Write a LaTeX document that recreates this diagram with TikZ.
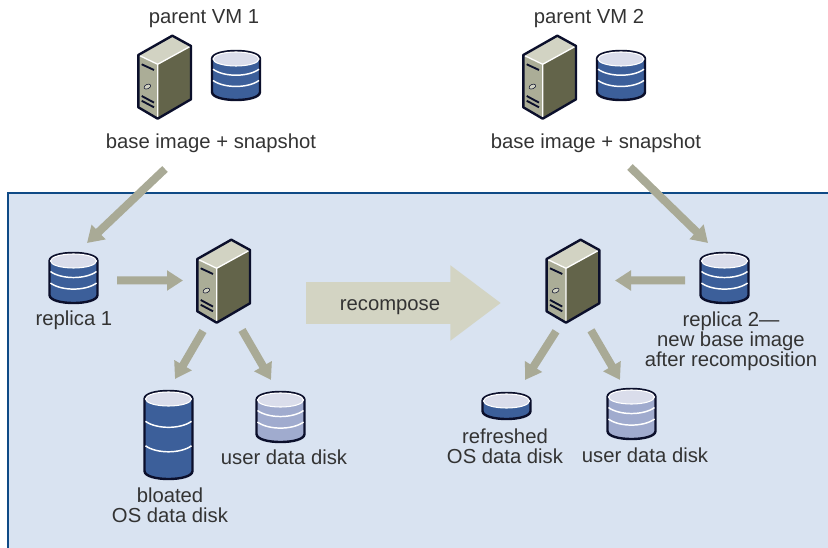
\documentclass[tikz,border=0pt]{standalone}
\usepackage{fontspec}
\setmainfont{Liberation Sans}
\usetikzlibrary{arrows.meta}
\definecolor{panelfill}{HTML}{D9E3F1}
\definecolor{panelline}{HTML}{0F4A86}
\definecolor{iconline}{HTML}{0B0F2B}
\definecolor{diskblue}{HTML}{3C5F9A}
\definecolor{disklight}{HTML}{A0ABCE}
\definecolor{disktop}{HTML}{DADDEB}
\definecolor{srvtop}{HTML}{D2D3C3}
\definecolor{srvfront}{HTML}{ABAD97}
\definecolor{srvside}{HTML}{63644A}
\definecolor{flowgray}{HTML}{A9AA96}
\definecolor{bigflow}{HTML}{D3D4C3}
\definecolor{labeltext}{HTML}{333333}
\tikzset{
    lbl/.style={text=labeltext,font=\fontsize{15.2}{15}\selectfont,align=center,inner sep=0pt},
    iconspot/.style={inner sep=0pt,minimum size=0pt,outer sep=0pt},
    flowarrow/.style={draw=flowgray,line width=6pt,-{Triangle[width=14.5pt,length=12pt,fill=flowgray]}},
    bigarrow/.style={draw=bigflow,line width=31.5pt,-{Triangle[width=54pt,length=38pt,fill=bigflow]}},
    iconedge/.style={draw=iconline,line width=1.8pt,line join=round}
}
\newcommand{\serverbox}[3]{
    \begin{scope}[shift={(#2,#3)}]
        \node[iconspot] (#1) at (0,0) {};
        \fill[srvtop] (-19.4,-9.3) -- (14.6,-28.6) -- (33.3,-18.3) -- (0,0) -- cycle;
        \fill[srvfront] (-19.4,-9.3) -- (0,0) -- (0,54.4) -- (-19.4,43) -- cycle;
        \fill[srvside] (0,0) -- (33.3,-18.3) -- (33.3,35) -- (0,54.4) -- cycle;
        \draw[white,line width=1pt] (-19.4,-9.3) -- (0,0) -- (33.3,-18.3) (0,0) -- (0,54.4);
        \draw[iconedge] (-19.4,-9.3) -- (14.6,-28.6) -- (33.3,-18.3) -- (33.3,35) -- (0,54.4) -- (-19.4,43) -- cycle;
        \draw[iconline,line width=1.4pt] (-16,0) -- (-3.7,5.7) (-16,31.7) -- (-3.7,38.3) (-16,36.5) -- (-3.7,43);
        \draw[iconline,fill=srvtop,line width=.4pt,rotate around={25:(-10.3,22.3)}] (-10.3,22.3) ellipse [x radius=3.6,y radius=2.2];
    \end{scope}
}
\newcommand{\diskbox}[5]{
    \begin{scope}[shift={(#2,#3)}]
        \node[iconspot] (#1) at (0,0) {};
        \pgfmathsetmacro{\ytop}{-#4/2+8}
        \pgfmathsetmacro{\ybot}{#4/2-8}
        \draw[iconedge,fill=#5] (-24,\ytop) -- (-24,\ybot) .. controls (-24,\ybot+10.7) and (24,\ybot+10.7) .. (24,\ybot) -- (24,\ytop) .. controls (24,\ytop-10.7) and (-24,\ytop-10.7) .. cycle;
        \draw[white,fill=disktop,line width=.8pt] (0,\ytop) ellipse [x radius=23,y radius=7];
    \end{scope}
}
\newcommand{\diskbands}[3]{
    \begin{scope}[shift={(#1,#2)}]
        \foreach \frac in {.31,.65}{
            \pgfmathsetmacro{\yband}{-#3/2+8+\frac*(#3-16)}
            \draw[white,line width=1.1pt] (-23,\yband) .. controls (-12,\yband+8) and (12,\yband+8) .. (23,\yband);
        }
    \end{scope}
}
\begin{document}
\begin{tikzpicture}[x=0.75pt,y=-0.75pt]
    \useasboundingbox (0,0) rectangle (828,548);
    \fill[panelfill] (8,193) rectangle (828,548);
    \draw[panelline,line width=1.8pt] (8,548) -- (8,193) -- (828,193);

    \node[lbl] (parentA) at (204,19) {parent VM 1};
    \node[lbl] (parentB) at (589,19) {parent VM 2};
    \node[lbl] (baseA) at (211,143) {base image + snapshot};
    \node[lbl] (baseB) at (596,143) {base image + snapshot};

    \serverbox{vmA}{157.7}{64.3}
    \serverbox{vmB}{542.7}{64.3}
    \serverbox{serverA}{216.7}{268.3}
    \serverbox{serverB}{566}{268.3}

    \diskbox{diskA}{236}{75.5}{49}{diskblue}
    \diskbands{236}{75.5}{49}
    \diskbox{diskB}{621}{75.5}{49}{diskblue}
    \diskbands{621}{75.5}{49}
    \diskbox{replicaA}{73.5}{278}{50}{diskblue}
    \diskbands{73.5}{278}{50}
    \diskbox{replicaB}{724.5}{278}{50}{diskblue}
    \diskbands{724.5}{278}{50}
    \diskbox{bloated}{168.5}{435}{88}{diskblue}
    \diskbands{168.5}{435}{88}
    \diskbox{userA}{280.5}{417}{50}{disklight}
    \diskbands{280.5}{417}{50}
    \diskbox{refreshed}{506.5}{406}{26}{diskblue}
    \diskbox{userB}{631.5}{414}{50}{disklight}
    \diskbands{631.5}{414}{50}

    \node[lbl] (replicaAlbl) at (74,320) {replica 1};
    \node[lbl] (bloatedlbl) at (170,505.5) {bloated\\OS data disk};
    \node[lbl] (userAlbl) at (284,457) {user data disk};
    \node[lbl] (refreshedlbl) at (505,446.5) {refreshed\\OS data disk};
    \node[lbl] (userBlbl) at (645,455.5) {user data disk};
    \node[lbl] (replicaBlbl) at (731,341.5) {replica 2—\\new base image\\after recomposition};

    \draw[flowarrow] ([shift={(-46,26)}]baseA.center) -- ([shift={(13.5,-35)}]replicaA.center);
    \draw[flowarrow] ([shift={(34,24)}]baseB.center) -- ([shift={(-16.5,-35)}]replicaB.center);
    \draw[flowarrow] ([shift={(43.5,2.5)}]replicaA.center) -- ([shift={(-33.7,12.2)}]serverA.center);
    \draw[flowarrow] ([shift={(-39.5,2.5)}]replicaB.center) -- ([shift={(49,12.2)}]serverB.center);
    \draw[flowarrow] ([shift={(-13.7,62.7)}]serverA.center) -- ([shift={(6.5,-56)}]bloated.center);
    \draw[flowarrow] ([shift={(25.3,61.7)}]serverA.center) -- ([shift={(-9.5,-37)}]userA.center);
    \draw[flowarrow] ([shift={(-10,63)}]serverB.center) -- ([shift={(18.5,-26)}]refreshed.center);
    \draw[flowarrow] ([shift={(25,62)}]serverB.center) -- ([shift={(-11.5,-34)}]userB.center);

    \coordinate (recomposeTail) at (306,303);
    \coordinate (recomposeTip) at (501,303);
    \draw[bigarrow] (recomposeTail) -- (recomposeTip);
    \node[lbl] (recompose) at (390,307.5) {recompose};
\end{tikzpicture}
\end{document}
